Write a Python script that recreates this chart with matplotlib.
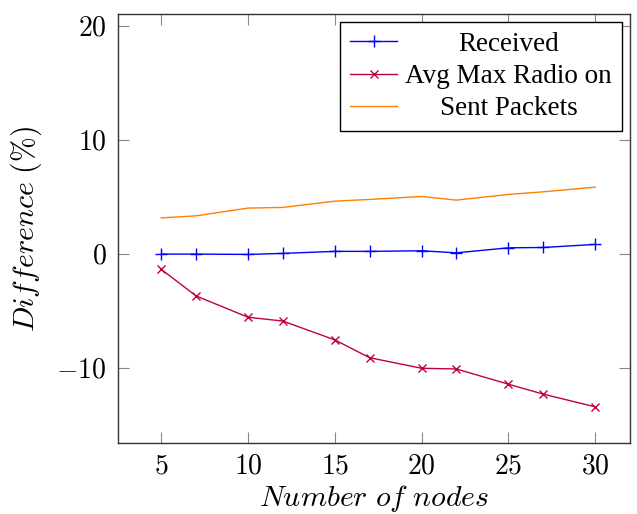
import numpy as np
import matplotlib
matplotlib.use('Agg')
import matplotlib.pyplot as plt

# Data
nodes = [5, 7, 10, 12, 15, 17, 20, 22, 25, 27, 30]
received = [0.0, 0.0, -0.03, 0.06, 0.24, 0.24, 0.29, 0.11, 0.55, 0.58, 0.85]
avg_max_radio = [-1.34, -3.67, -5.55, -5.88, -7.54, -9.1, -10.03, -10.09, -11.43, -12.3, -13.42]
sent_packets = [3.18, 3.36, 4.04, 4.1, 4.65, 4.8, 5.06, 4.74, 5.24, 5.47, 5.88]

x_ticks = [5, 10, 15, 20, 25, 30]
y_ticks = [-10, 0, 10, 20]

plt.rcParams['mathtext.fontset'] = 'cm'
plt.rcParams['font.family'] = 'Liberation Serif'
fs_tick = 20
fs_leg = 19.5
fs_lab = 21.5

fig = plt.figure(figsize=(6.37, 5.14), dpi=100)
ax = fig.add_axes([0.185, 0.138, 0.804, 0.835])

ax.plot(nodes, received, color='#0000ff', lw=1.0, marker='+', markersize=8, markeredgewidth=1.0, label='Received')
ax.plot(nodes, avg_max_radio, color='#bf0040', lw=1.0, marker='x', markersize=6, markeredgewidth=1.0, label='Avg Max Radio on')
ax.plot(nodes, sent_packets, color='#ff8000', lw=1.0, label='Sent Packets')

ax.set_xlim(2.5, 32.0)
ax.set_ylim(-16.6, 21.1)
ax.set_xticks(x_ticks)
ax.set_yticks(y_ticks)
ax.set_xticklabels(['$%d$' % v for v in x_ticks], fontsize=fs_tick)
ax.set_yticklabels(['$%d$' % v if v >= 0 else r'$-%d$' % -v for v in y_ticks], fontsize=fs_tick)
ax.tick_params(direction='in', length=8, width=0.8, color='#888888', top=True, right=True, pad=8)
for s in ax.spines.values():
    s.set_color('#333333')
    s.set_linewidth(1.0)

ax.set_xlabel(r'$Number\ of\ nodes$', fontsize=fs_lab, labelpad=3)
ax.set_ylabel(r'$Difference\ (\%)$', fontsize=fs_lab, labelpad=9)

leg = ax.legend(loc='upper right', fontsize=fs_leg, frameon=True, fancybox=False,
                edgecolor='black', framealpha=1, borderaxespad=0.3,
                handlelength=1.75, handletextpad=0.3, labelspacing=0.27, borderpad=0.36)
leg.get_frame().set_linewidth(1.0)

# center legend labels like pgfplots
fig.canvas.draw()
renderer = fig.canvas.get_renderer()
texts = leg.get_texts()
widths = [t.get_window_extent(renderer).width for t in texts]
wmax = max(widths)
for t, w in zip(texts, widths):
    t.set_x((wmax - w) / 2)

fig.savefig('out.png', dpi=100)
